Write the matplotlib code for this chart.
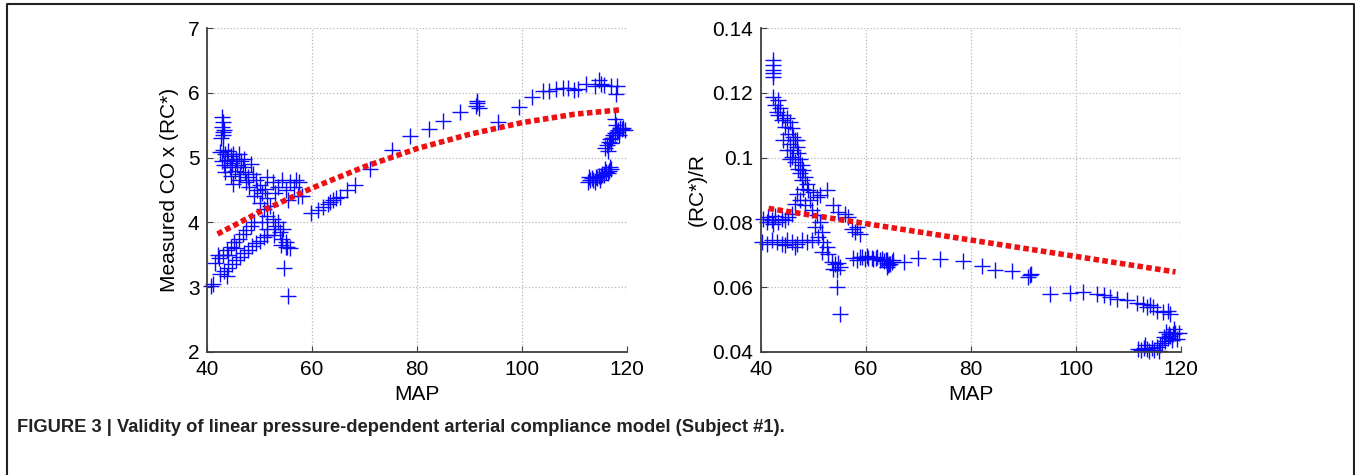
import matplotlib.pyplot as plt
from matplotlib.lines import Line2D

plt.rcParams['font.family'] = ['Liberation Sans', 'DejaVu Sans']

# left panel: MAP vs measured CO x (RC*)
left_map = [
    42.8, 43.0, 42.9, 43.1, 43.0, 42.7, 43.2,
    42.5, 43.0, 43.5, 44.0, 44.5, 45.0, 45.5, 46.0, 46.5, 47.0,
    42.8, 43.3, 43.8, 44.3, 44.8, 45.3, 45.8, 46.3, 46.8, 47.3, 47.8,
    43.5, 44.5, 48.3, 48.8, 49.3, 47.5, 48.0, 46.0, 45.0,
    49.5, 50.0, 50.5, 51.0, 51.5, 49.0, 50.0, 50.8, 51.5, 52.0, 52.5,
    53.0, 53.5, 53.8, 54.2, 54.5, 55.0, 55.3, 54.0, 52.8, 51.5, 50.5,
    51.5, 52.5, 53.5, 54.3, 55.0, 55.8, 56.5, 57.3, 57.0, 53.0, 55.5,
    41.5, 42.3, 43.0, 43.8, 44.5, 45.2, 46.0, 46.8, 47.5, 48.3, 49.0,
    42.0, 44.0, 45.5,
    42.5, 43.3, 44.0, 44.8, 45.5, 46.3, 47.0, 47.8, 48.5, 49.3, 50.0,
    50.8, 51.5, 43.8, 41.2, 40.8,
    54.7, 55.4, 55.0, 55.8,
    59.8, 61.1, 62.1, 63.0, 64.0, 64.6, 63.5, 65.3, 66.6, 68.2, 71.1,
    75.2, 58.0, 57.6,
    78.7, 82.2, 85.0, 88.1, 91.2, 91.5, 91.8, 91.4, 95.5, 99.5, 101.8,
    104.0, 105.2, 106.5, 107.8, 108.8, 109.8, 110.7, 112.2, 113.8,
    114.7, 115.0, 115.6, 116.9, 118.1, 117.8,
    112.5, 113.0, 113.3, 113.6, 114.0, 114.3, 114.6, 115.0, 115.3,
    115.6, 116.0, 116.3, 116.6, 117.0, 113.8, 114.8, 115.8, 112.8, 116.8,
    115.8, 116.2, 116.5, 116.8, 117.1, 117.4, 117.7, 118.0, 118.3,
    118.7, 119.0, 119.3, 119.6, 117.0, 118.5, 117.7, 116.4, 117.9,
]
left_co = [
    5.62, 5.55, 5.48, 5.40, 5.35, 5.30, 5.43,
    5.08, 5.12, 5.05, 5.10, 5.02, 5.06, 4.98, 5.05, 4.95, 4.98,
    4.95, 4.88, 4.97, 4.85, 4.92, 4.80, 4.88, 4.75, 4.85, 4.78, 4.70,
    4.78, 4.72, 4.90, 4.75, 4.65, 4.62, 4.55, 4.65, 4.60,
    4.50, 4.58, 4.45, 4.52, 4.38, 4.40, 4.30, 4.20, 4.10, 4.25, 4.05,
    3.95, 4.00, 3.85, 3.75, 3.90, 3.70, 3.62, 3.65, 3.80, 3.90, 4.00,
    4.70, 4.62, 4.55, 4.65, 4.50, 4.62, 4.55, 4.40, 4.65, 4.45, 4.35,
    3.38, 3.45, 3.50, 3.58, 3.62, 3.70, 3.75, 3.82, 3.88, 3.95, 4.00,
    3.50, 3.50, 3.60,
    3.20, 3.25, 3.30, 3.36, 3.42, 3.47, 3.52, 3.58, 3.63, 3.68, 3.72,
    3.77, 3.80, 3.18, 3.05, 3.02,
    3.29, 2.87, 3.62, 3.60,
    4.14, 4.19, 4.24, 4.29, 4.34, 4.37, 4.31, 4.39, 4.50, 4.57, 4.83,
    5.11, 4.40, 4.62,
    5.34, 5.44, 5.56, 5.71, 5.80, 5.85, 5.77, 5.88, 5.55, 5.78, 5.94,
    6.03, 6.03, 6.06, 6.07, 6.07, 6.05, 6.06, 6.13, 6.11,
    6.20, 6.14, 6.12, 6.10, 6.10, 5.98,
    4.63, 4.65, 4.68, 4.66, 4.70, 4.68, 4.72, 4.71, 4.75,
    4.73, 4.78, 4.76, 4.80, 4.82, 4.62, 4.66, 4.83, 4.70, 4.86,
    5.15, 5.20, 5.24, 5.28, 5.30, 5.35, 5.38, 5.40, 5.42,
    5.45, 5.44, 5.46, 5.42, 5.22, 5.35, 5.59, 5.10, 5.50,
]

# red dotted fit, left panel
left_fit_map = [42, 50, 60, 70, 80, 90, 100, 110, 119]
left_fit_co = [3.82, 4.16, 4.53, 4.86, 5.14, 5.36, 5.54, 5.67, 5.74]

# right panel: MAP vs (RC*)/R
right_map = [
    42.41, 42.41, 42.41, 42.41, 42.41,
    42.41, 43.37, 42.73, 43.68, 43.05, 44.32, 44.00, 44.95, 45.59, 44.63,
    45.90, 45.27, 46.22, 46.54, 45.59, 46.86, 46.22, 47.17, 45.90, 47.49,
    46.54, 47.81, 47.17, 48.13, 47.49, 48.44, 47.81, 48.76, 46.86, 44.95,
    44.32, 43.37, 45.59,
    48.13, 49.08, 50.03, 46.86, 50.67, 47.49, 49.40, 51.30, 46.54, 48.44,
    40.51, 41.46, 42.10, 42.73, 43.37, 44.00, 44.63, 45.27, 45.90, 41.14,
    42.41,
    41.14, 42.10, 43.05, 44.00, 44.95, 45.90, 46.86, 47.81, 48.76, 49.71,
    44.63, 46.54, 40.19,
    49.71, 50.67, 51.30, 50.35, 51.62, 50.98, 51.94, 52.57, 51.62, 52.89,
    53.52, 54.16, 54.79, 53.84, 54.48, 55.11,
    52.57, 53.84, 54.79, 56.06, 56.70,
    57.33, 57.97, 58.92, 58.29,
    54.48, 55.11,
    59.24, 60.19, 61.14, 62.10, 63.05, 64.00, 64.63, 65.27, 64.00,
    57.5, 58.3, 59.0, 59.8, 60.5, 61.3, 62.0, 62.8, 63.5, 64.0, 64.5,
    64.2, 65.0, 63.8,
    67.2, 70.0, 74.2, 78.6, 82.1, 84.6, 87.8, 91.3, 91.0, 91.5,
    95.1, 98.9, 101.4, 104.0, 105.3, 106.5, 107.8, 109.7, 111.6, 112.9,
    114.2, 114.8, 115.4, 116.7, 118.0, 113.5, 117.5,
    111.8, 112.5, 113.0, 113.5, 114.0, 114.5, 115.0, 115.5, 116.0, 116.5,
    117.0, 117.5, 118.0, 118.5, 119.0, 119.6, 118.8, 117.8, 116.8, 119.3,
    113.2, 115.8, 117.2, 118.3,
]
right_ratio = [
    0.1301, 0.1286, 0.1270, 0.1260, 0.1250,
    0.1188, 0.1177, 0.1162, 0.1152, 0.1141, 0.1131, 0.1116, 0.1121, 0.1110, 0.1095,
    0.1090, 0.1074, 0.1064, 0.1054, 0.1043, 0.1033, 0.1023, 0.1013, 0.1002, 0.0997,
    0.0987, 0.0977, 0.0966, 0.0961, 0.0951, 0.0940, 0.0930, 0.0920, 0.1054, 0.1023,
    0.1054, 0.1131, 0.0997,
    0.0904, 0.0899, 0.0894, 0.0889, 0.0879, 0.0868, 0.0868, 0.0884, 0.0858, 0.0853,
    0.0812, 0.0817, 0.0806, 0.0819, 0.0801, 0.0812, 0.0806, 0.0817, 0.0827, 0.0801,
    0.0796,
    0.0734, 0.0745, 0.0740, 0.0734, 0.0745, 0.0740, 0.0734, 0.0745, 0.0740, 0.0745,
    0.0729, 0.0724, 0.0740,
    0.0837, 0.0822, 0.0801, 0.0786, 0.0770, 0.0755, 0.0740, 0.0724, 0.0709, 0.0703,
    0.0678, 0.0671, 0.0675, 0.0657, 0.0652, 0.0662,
    0.0899, 0.0853, 0.0832, 0.0827, 0.0817,
    0.0781, 0.0770, 0.0765, 0.0786,
    0.0600, 0.0516,
    0.0693, 0.0695, 0.0691, 0.0693, 0.0688, 0.0683, 0.0673, 0.0685, 0.0662,
    0.0690, 0.0685, 0.0692, 0.0688, 0.0690, 0.0686, 0.0689, 0.0683, 0.0680, 0.0676, 0.0672,
    0.0668, 0.0679, 0.0684,
    0.0678, 0.0691, 0.0687, 0.0680, 0.0665, 0.0652, 0.0649, 0.0637, 0.0631, 0.0640,
    0.0580, 0.0582, 0.0585, 0.0578, 0.0575, 0.0569, 0.0563, 0.0559, 0.0551, 0.0547,
    0.0544, 0.0539, 0.0528, 0.0523, 0.0518, 0.0540, 0.0525,
    0.0410, 0.0405, 0.0412, 0.0408, 0.0404, 0.0412, 0.0406, 0.0415, 0.0420, 0.0428,
    0.0435, 0.0442, 0.0448, 0.0455, 0.0460, 0.0458, 0.0470, 0.0455, 0.0445, 0.0440,
    0.0420, 0.0402, 0.0462, 0.0438,
]

right_fit_map = [41.5, 119]
right_fit_ratio = [0.0843, 0.0647]

fig = plt.figure(figsize=(13.55, 4.75), dpi=100)
ax1 = fig.add_axes([0.1528, 0.259, 0.31, 0.682])
ax2 = fig.add_axes([0.5614, 0.259, 0.31, 0.682])


def style(ax):
    ax.set_xlim(40, 120)
    ax.set_xticks([40, 60, 80, 100, 120])
    ax.grid(True, linestyle=':', color='#b8b8b8', linewidth=0.9)
    ax.set_axisbelow(True)
    for s in ['top', 'right']:
        ax.spines[s].set_visible(False)
    for s in ['left', 'bottom']:
        ax.spines[s].set_color('#404040')
        ax.spines[s].set_linewidth(1.3)
    ax.tick_params(direction='in', length=4, labelsize=15, color='#404040')
    ax.tick_params(axis='x', pad=6)
    ax.tick_params(axis='y', pad=5.5)
    ax.set_xlabel('MAP', fontsize=15, labelpad=4)


ax1.plot(left_map, left_co, '+', color='#0a0aff', markersize=11, markeredgewidth=1.0, clip_on=False)
ax1.plot(left_fit_map, left_fit_co, color='#ee1111', linewidth=4, linestyle=(0, (1, 0.6)))
style(ax1)
ax1.set_ylim(2, 7)
ax1.set_yticks([2, 3, 4, 5, 6, 7])
ax1.set_ylabel('Measured CO x (RC*)', fontsize=15, labelpad=6)

ax2.plot(right_map, right_ratio, '+', color='#0a0aff', markersize=11, markeredgewidth=1.0, clip_on=False)
ax2.plot(right_fit_map, right_fit_ratio, color='#ee1111', linewidth=4, linestyle=(0, (1, 0.6)))
style(ax2)
ax2.set_ylim(0.04, 0.14)
ax2.set_yticks([0.04, 0.06, 0.08, 0.1, 0.12, 0.14])
ax2.set_yticklabels(['0.04', '0.06', '0.08', '0.1', '0.12', '0.14'])
ax2.set_ylabel('(RC*)/R', fontsize=15, labelpad=4)

# frame round the figure (open at the bottom)
fig.add_artist(Line2D([0.0052, 0.0052, 0.9993, 0.9993], [0, 0.9916, 0.9916, 0], color='#222222', linewidth=1.5))

fig.text(0.0125, 0.101, 'FIGURE 3 | Validity of linear pressure-dependent arterial compliance model (Subject #1).',
         fontsize=13.2, fontweight='bold', va='center', color='#222222')

fig.savefig('out.png', dpi=100)
